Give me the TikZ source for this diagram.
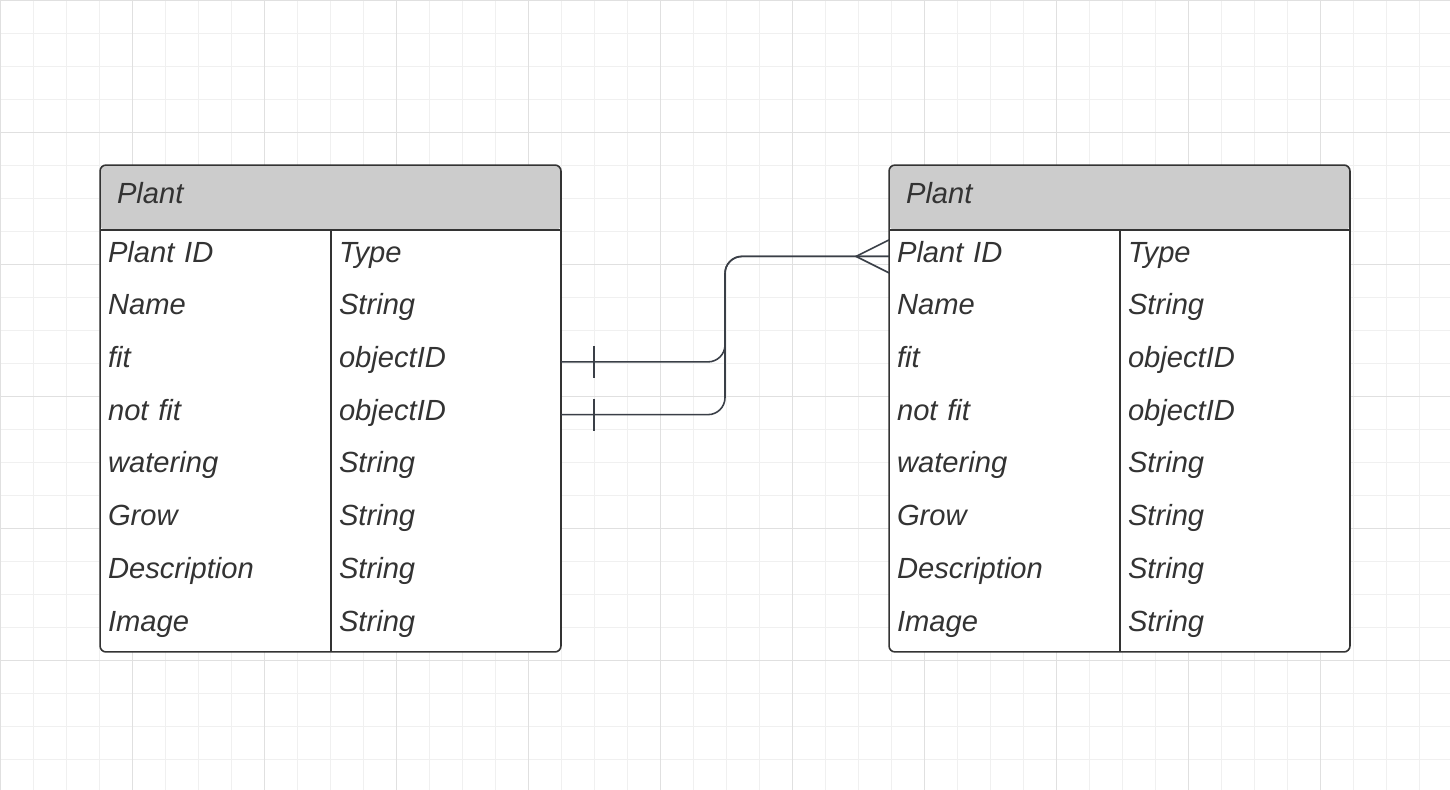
\documentclass[tikz,border=0pt]{standalone}
\usepackage{fontspec}
\setmainfont{Liberation Sans}
\usetikzlibrary{positioning}
\definecolor{erline}{HTML}{3A3F47}
\definecolor{erborder}{HTML}{333333}
\definecolor{ertext}{HTML}{333333}
\definecolor{headfill}{HTML}{CCCCCC}
\definecolor{gridminor}{HTML}{F0F0F0}
\definecolor{gridmajor}{HTML}{E0E0E0}
\tikzset{
  erbox/.style={draw=erborder, line width=0.9pt, fill=white, rounded corners=0.12cm,
    minimum width=9.22cm, minimum height=9.74cm, inner sep=0pt, outer sep=0pt,
    path picture={\fill[headfill] (path picture bounding box.north west) rectangle ([yshift=-1.3cm]path picture bounding box.north east);}},
  cellbase/.style={inner ysep=0pt, outer sep=0pt, align=left, text height=0.4cm, text depth=0.175cm,
    font=\itshape\fontsize{16.6}{19}\selectfont, text=ertext},
  headcell/.style={cellbase, inner xsep=0.34cm, text width=8.54cm, minimum height=1.3cm},
  fieldcell/.style={cellbase, inner xsep=0.16cm, text width=4.3cm, minimum height=1.055cm},
  typecell/.style={cellbase, inner xsep=0.16cm, text width=4.28cm, minimum height=1.055cm},
  tableline/.style={draw=erborder, line width=0.9pt},
  erlink/.style={draw=erline, line width=0.9pt}
}
\begin{document}
\begin{tikzpicture}[x=0.02cm, y=-0.02cm]
\useasboundingbox (0,0) rectangle (1450,790);
\fill[white] (0,0) rectangle (1450,790);
\foreach \gx in {0,33,...,1450} \draw[gridminor, line width=0.45pt] (\gx,0) -- (\gx,790);
\foreach \gy in {0,33,...,790} \draw[gridminor, line width=0.45pt] (0,\gy) -- (1450,\gy);
\foreach \gx in {0,132,...,1450} \draw[gridmajor, line width=0.45pt] (\gx,0) -- (\gx,790);
\foreach \gy in {0,132,...,790} \draw[gridmajor, line width=0.45pt] (0,\gy) -- (1450,\gy);

% left table
\node[erbox] (ltab) at (330.5,408.5) {};
\node[headcell, anchor=north west] (lhead) at (ltab.north west) {Plant};
\draw[tableline] (lhead.south west) -- (lhead.south east);
\node[fieldcell, anchor=north west] (lf1) at (lhead.south west) {Plant ID};
\node[typecell, right=0pt of lf1] (lt1) {Type};
\node[fieldcell, below=0pt of lf1] (lf2) {Name};
\node[typecell, right=0pt of lf2] (lt2) {String};
\node[fieldcell, below=0pt of lf2] (lf3) {fit};
\node[typecell, right=0pt of lf3] (lt3) {objectID};
\node[fieldcell, below=0pt of lf3] (lf4) {not fit};
\node[typecell, right=0pt of lf4] (lt4) {objectID};
\node[fieldcell, below=0pt of lf4] (lf5) {watering};
\node[typecell, right=0pt of lf5] (lt5) {String};
\node[fieldcell, below=0pt of lf5] (lf6) {Grow};
\node[typecell, right=0pt of lf6] (lt6) {String};
\node[fieldcell, below=0pt of lf6] (lf7) {Description};
\node[typecell, right=0pt of lf7] (lt7) {String};
\node[fieldcell, below=0pt of lf7] (lf8) {Image};
\node[typecell, right=0pt of lf8] (lt8) {String};
\draw[tableline] (lf1.north east) -- (lf8.south east);

% right table
\node[erbox] (rtab) at (1119.5,408.5) {};
\node[headcell, anchor=north west] (rhead) at (rtab.north west) {Plant};
\draw[tableline] (rhead.south west) -- (rhead.south east);
\node[fieldcell, anchor=north west] (rf1) at (rhead.south west) {Plant ID};
\node[typecell, right=0pt of rf1] (rt1) {Type};
\node[fieldcell, below=0pt of rf1] (rf2) {Name};
\node[typecell, right=0pt of rf2] (rt2) {String};
\node[fieldcell, below=0pt of rf2] (rf3) {fit};
\node[typecell, right=0pt of rf3] (rt3) {objectID};
\node[fieldcell, below=0pt of rf3] (rf4) {not fit};
\node[typecell, right=0pt of rf4] (rt4) {objectID};
\node[fieldcell, below=0pt of rf4] (rf5) {watering};
\node[typecell, right=0pt of rf5] (rt5) {String};
\node[fieldcell, below=0pt of rf5] (rf6) {Grow};
\node[typecell, right=0pt of rf6] (rt6) {String};
\node[fieldcell, below=0pt of rf6] (rf7) {Description};
\node[typecell, right=0pt of rf7] (rt7) {String};
\node[fieldcell, below=0pt of rf7] (rf8) {Image};
\node[typecell, right=0pt of rf8] (rt8) {String};
\draw[tableline] (rf1.north east) -- (rf8.south east);

% relations
\coordinate (jn) at (725,0);
\draw[erlink, rounded corners=0.34cm] (lt3.east) -| (jn |- rf1.west) -- (rf1.west);
\draw[erlink, rounded corners=0.34cm] (lt4.east) -| (jn |- rf1.west) -- (rf1.west);
\draw[erlink] ([xshift=0.66cm,yshift=0.32cm]lt3.east) -- ([xshift=0.66cm,yshift=-0.32cm]lt3.east);
\draw[erlink] ([xshift=0.66cm,yshift=0.32cm]lt4.east) -- ([xshift=0.66cm,yshift=-0.32cm]lt4.east);
\draw[erlink] ([yshift=0.33cm]rf1.west) -- ([xshift=-0.66cm]rf1.west) -- ([yshift=-0.33cm]rf1.west);
\end{tikzpicture}
\end{document}
